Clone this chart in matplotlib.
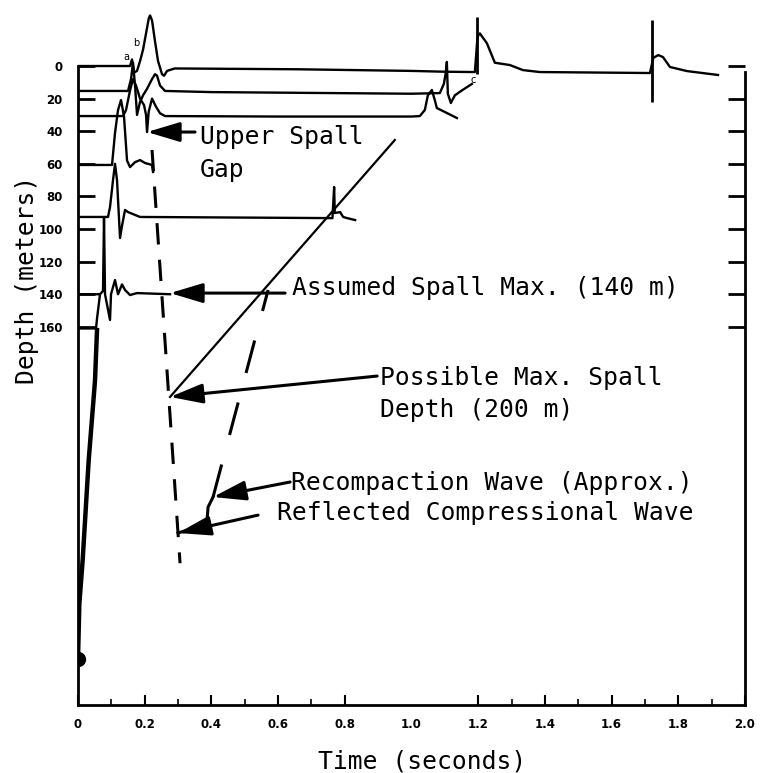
import numpy as np
import matplotlib
matplotlib.use("Agg")
import matplotlib.pyplot as plt

# ---------------- data (time in s, depth in m) ----------------
xtick_vals = [0.0, 0.2, 0.4, 0.6, 0.8, 1.0, 1.2, 1.4, 1.6, 1.8, 2.0]
xtick_labels = ["0", "0.2", "0.4", "0.6", "0.8", "1.0", "1.2", "1.4", "1.6", "1.8", "2.0"]
xminor_vals = [0.1, 0.3, 0.5, 0.7, 1.3, 1.5, 1.7, 1.9]
ytick_vals = [0, 20, 40, 60, 80, 100, 120, 140, 160]
ytick_labels = ["0", "20", "40", "60", "80", "100", "120", "140", "160"]

tr0_t = [0.0, 0.156, 0.162, 0.168, 0.177, 0.186, 0.195, 0.204, 0.212, 0.216, 0.222, 0.231, 0.240, 0.246,
         0.252, 0.258, 0.267, 0.29, 0.66, 1.0, 1.10, 1.19, 1.198, 1.205, 1.226, 1.25, 1.295, 1.334, 1.385,
         1.715, 1.725, 1.74, 1.754, 1.775, 1.826, 1.919]
tr0_d = [0, 0, -4, 4, 3, -3, -10, -20, -29, -31, -28, -15, -3, 1,
         5, 6, 3, 1.5, 2, 3, 3.5, 3.7, -18, -20, -14, -2, -0.6, 2.5, 3.7,
         4.3, -5, -6.7, -5.5, 0.6, 3.1, 5.5]

tr15_t = [0.0, 0.150, 0.159, 0.165, 0.171, 0.177, 0.186, 0.195, 0.207, 0.222, 0.231, 0.237, 0.246, 0.261,
          0.40, 1.0, 1.085, 1.097, 1.103, 1.106, 1.109, 1.118, 1.130, 1.151, 1.181]
tr15_d = [15.3, 15.3, 8, -2, 12, 30, 22, 18, 14, 8, 5, 6, 12, 15.3,
          16, 17, 16.6, 11, 4, -2.5, 17, 22.7, 18, 15, 11]

tr31_t = [0.0, 0.135, 0.144, 0.156, 0.165, 0.174, 0.186, 0.198, 0.204, 0.207, 0.212, 0.222, 0.234, 0.246,
          0.261, 0.6, 1.0, 1.025, 1.040, 1.049, 1.061, 1.070, 1.076, 1.106, 1.136]
tr31_d = [30.7, 30.7, 27, 15, 8, 12, 20, 24, 30, 40.5, 28, 20, 25, 29,
          30.7, 31, 31, 30.7, 27, 18, 14.7, 21, 25.8, 28.8, 31.9]

tr60_t = [0.0, 0.102, 0.111, 0.120, 0.129, 0.138, 0.147, 0.156, 0.171, 0.186, 0.201, 0.222, 0.225]
tr60_d = [60.7, 60.7, 41, 27, 20.9, 31, 58, 62, 59, 57.7, 59.5, 60.7, 65]

tr92_t = [0.0, 0.090, 0.096, 0.105, 0.111, 0.117, 0.126, 0.132, 0.141, 0.150, 0.186, 0.756, 0.763,
          0.768, 0.770, 0.786, 0.795, 0.807, 0.831]
tr92_d = [92.6, 92.6, 86.5, 70, 60, 70, 105.5, 98, 88.3, 89.6, 92.6, 93.3, 93.3,
          74.2, 90.2, 89.6, 92.6, 93.3, 94.5]

tr140_t = [0.0, 0.066, 0.075, 0.078, 0.081, 0.096, 0.099, 0.111, 0.120, 0.132, 0.141, 0.156, 0.177, 0.276]
tr140_d = [140, 140, 138, 93, 140, 155.8, 140, 131.3, 140, 134, 137.4, 140.5, 139.3, 140]

tr160_t = [0.0, 0.054, 0.057, 0.063, 0.066]
tr160_d = [161, 161, 155, 145, 140]

first_t = [0.0, 0.004, 0.014, 0.032, 0.051, 0.057]
first_d = [364, 330, 303, 242, 193, 162]

spike_t = [1.196, 1.721]
spike_top = [-30, -28]
spike_bot = [5, 22]

spall_t = [0.222, 0.306]
spall_d = [51.5, 305]

diag_t = [0.276, 0.950]
diag_d = [203, 45.4]

recomp_t = [0.405, 0.570]
recomp_d = [264.4, 137.4]

refl_t = [0.300, 0.366, 0.387, 0.390, 0.405]
refl_d = [286.5, 282.2, 278.5, 270.6, 264.4]

source_t = [0.0]
source_d = [364]

# ---------------- figure ----------------
W, H = 760, 773
fig = plt.figure(figsize=(W / 100, H / 100), dpi=100)
ax = fig.add_axes([78 / W, 68 / H, 667 / W, 705 / H])
ax.set_xlim(0, 2.0)
ax.set_ylim(392, -40.5)

lw = 1.7
for t, d in [(tr0_t, tr0_d), (tr15_t, tr15_d), (tr31_t, tr31_d), (tr60_t, tr60_d),
             (tr92_t, tr92_d), (tr140_t, tr140_d), (tr160_t, tr160_d)]:
    ax.plot(t, d, color="black", lw=lw, solid_joinstyle="round")

ax.vlines(spike_t, spike_top, spike_bot, color="black", lw=2.0)
ax.plot(first_t, first_d, color="black", lw=3.2)
ax.plot(source_t, source_d, "o", color="black", ms=10)
ax.plot(spall_t, spall_d, color="black", lw=2.2, dashes=(7, 5))
ax.plot(diag_t, diag_d, color="black", lw=1.6)
ax.plot(recomp_t, recomp_d, color="black", lw=2.2, dashes=(11, 10))
ax.plot(refl_t, refl_d, color="black", lw=2.2)

mono = "DejaVu Sans Mono"
fs = 17.7
aprops = dict(arrowstyle="-|>,head_length=1.0,head_width=0.3", color="black", lw=2.2,
              shrinkA=0, shrinkB=0, mutation_scale=20)
ax.annotate("", xy=(0.207, 40.5), xytext=(0.351, 40.5), arrowprops=aprops)
ax.annotate("", xy=(0.276, 139.3), xytext=(0.621, 139.3), arrowprops=aprops)
ax.annotate("", xy=(0.276, 203), xytext=(0.897, 190.2), arrowprops=aprops)
ax.annotate("", xy=(0.405, 264.4), xytext=(0.636, 255.2), arrowprops=aprops)
ax.annotate("", xy=(0.300, 286.5), xytext=(0.540, 275.5), arrowprops=aprops)

ax.text(0.366, 43.6, "Upper Spall", family=mono, fontsize=fs, va="center", ha="left")
ax.text(0.366, 63.8, "Gap", family=mono, fontsize=fs, va="center", ha="left")
ax.text(0.642, 136.2, "Assumed Spall Max. (140 m)", family=mono, fontsize=fs, va="center", ha="left")
ax.text(0.906, 191.4, "Possible Max. Spall", family=mono, fontsize=fs, va="center", ha="left")
ax.text(0.906, 211.0, "Depth (200 m)", family=mono, fontsize=fs, va="center", ha="left")
ax.text(0.639, 255.8, "Recompaction Wave (Approx.)", family=mono, fontsize=fs, va="center", ha="left")
ax.text(0.597, 274.2, "Reflected Compressional Wave", family=mono, fontsize=fs, va="center", ha="left")
ax.text(0.144, -5.5, "a", fontsize=7, ha="center", va="center")
ax.text(0.174, -14.1, "b", fontsize=7, ha="center", va="center")
ax.text(1.184, 8.6, "c", fontsize=7, ha="center", va="center")

# spines
ax.spines["top"].set_visible(False)
for s in ["left", "right", "bottom"]:
    ax.spines[s].set_linewidth(2.0)
ax.spines["left"].set_bounds(0, 392)
ax.spines["right"].set_bounds(3.5, 392)

tick_font = dict(family=["Liberation Sans Narrow", "DejaVu Sans"], weight="bold", size=8.5)
ax.set_xticks(xtick_vals)
ax.set_xticklabels(xtick_labels, **tick_font)
ax.set_xticks(xminor_vals, minor=True)
ax.tick_params(axis="x", which="major", direction="in", length=7, width=1.5, pad=9)
ax.tick_params(axis="x", which="minor", direction="in", length=4, width=1.2)
ax.xaxis.get_major_ticks()[5].tick1line.set_visible(False)
ax.set_yticks(ytick_vals)
ax.set_yticklabels(ytick_labels, **tick_font)
ax.tick_params(axis="y", which="major", direction="in", length=12, width=2.0, pad=11,
               left=True, right=True, labelleft=True, labelright=False)

fig.text(422 / W, 1 - 761 / H, "Time (seconds)", family=mono, fontsize=fs, ha="center", va="center")
fig.text(27 / W, 1 - 280 / H, "Depth (meters)", family=mono, fontsize=fs, ha="center", va="center",
         rotation=90)

fig.savefig("out.png", dpi=100)
